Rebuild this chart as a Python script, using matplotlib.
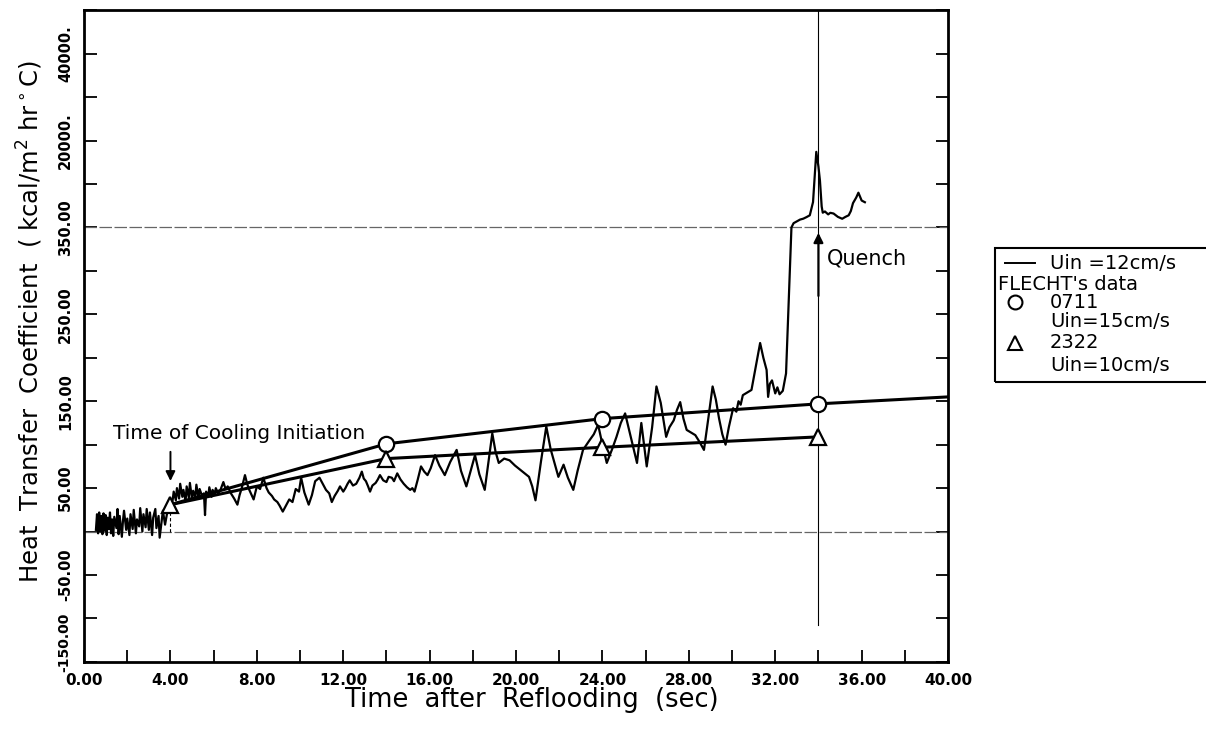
import numpy as np
import matplotlib
matplotlib.use("Agg")
import matplotlib.pyplot as plt
from matplotlib.patches import Rectangle
from matplotlib.lines import Line2D
from matplotlib.ticker import NullLocator

# measured heat transfer coefficient, Uin = 12 cm/s
# before cooling starts
t_pre = [0.55, 0.60, 0.65, 0.70, 0.75, 0.80, 0.85, 0.90, 0.95, 1.00,
         1.05, 1.10, 1.15, 1.20, 1.25, 1.30, 1.35, 1.40, 1.50, 1.55,
         1.60, 1.65, 1.75, 1.80, 1.85, 1.95, 2.00, 2.10, 2.15, 2.25,
         2.30, 2.40, 2.45, 2.55, 2.60, 2.70, 2.75, 2.85, 2.90, 3.00,
         3.05, 3.15, 3.20, 3.30, 3.35, 3.45, 3.50, 3.60, 3.65, 3.75]
h_pre = [2, 20, -2, 22, 0, 18, -3, 21, 1, 19,
         -4, 16, 3, 22, -2, 14, -5, 17, 4, 26,
         -3, 18, -6, 12, 24, 2, 15, -4, 20, 3,
         25, -2, 14, 6, 27, 0, 20, 5, 26, 2,
         22, -4, 16, 26, 4, 18, -7, 14, 24, 8]

# cooling period up to the quench front
t_cool = [3.85, 3.95, 4.05, 4.10, 4.15, 4.25, 4.30, 4.40, 4.45, 4.55,
          4.60, 4.70, 4.75, 4.85, 4.90, 5.00, 5.05, 5.15, 5.20, 5.30,
          5.35, 5.45, 5.55, 5.60, 5.65, 5.75, 5.80, 5.90, 5.95, 6.05,
          6.10, 6.20, 6.30, 6.45, 6.55, 6.65, 6.80, 6.95, 7.10, 7.20,
          7.30, 7.45, 7.55, 7.65, 7.85, 8.00, 8.15, 8.30, 8.45, 8.55,
          8.70, 8.80, 8.95, 9.05, 9.20, 9.35, 9.50, 9.65, 9.80, 9.95,
          10.05, 10.20, 10.40, 10.55, 10.70, 10.90, 11.05, 11.20, 11.35, 11.47,
          11.60, 11.75, 11.85, 12.00, 12.10, 12.20, 12.30, 12.45, 12.60, 12.75,
          12.86, 12.95, 13.05, 13.15, 13.24, 13.35, 13.50, 13.60, 13.70, 13.85,
          14.00, 14.10, 14.25, 14.35, 14.50, 14.65, 14.80, 14.95, 15.10, 15.20,
          15.30, 15.45, 15.60, 15.75, 15.90, 16.05, 16.25, 16.45, 16.70, 16.95,
          17.25, 17.45, 17.70, 17.90, 18.10, 18.30, 18.55, 18.75, 18.90, 19.05,
          19.20, 19.45, 19.70, 19.95, 20.20, 20.40, 20.60, 20.75, 20.90, 21.15,
          21.40, 21.60, 21.96, 22.20, 22.40, 22.65, 22.85, 23.10, 23.40, 23.60,
          23.80, 24.00, 24.20, 24.45, 24.65, 24.85, 25.05, 25.30, 25.60, 25.80,
          26.05, 26.30, 26.50, 26.70, 26.95, 27.10, 27.30, 27.45, 27.60, 27.75,
          27.90, 28.10, 28.30, 28.50, 28.70, 28.90, 29.10, 29.25, 29.40, 29.55,
          29.70, 29.85, 30.05, 30.20, 30.30, 30.40, 30.50, 30.70, 30.90, 31.10,
          31.30, 31.45, 31.60, 31.67, 31.75, 31.85, 32.00, 32.10, 32.20, 32.35,
          32.50]
h_cool = [22, 28, 31, 36, 46, 36, 50, 38, 55, 40,
          48, 35, 52, 39, 56, 37, 47, 40, 54, 38,
          49, 42, 44, 19, 46, 41, 51, 40, 48, 43,
          50, 44, 47, 57, 49, 52, 44, 38, 31, 42,
          50, 65, 55, 48, 37, 52, 49, 62, 50, 45,
          41, 37, 34, 30, 23, 30, 37, 34, 49, 46,
          62, 45, 31, 42, 58, 62, 55, 48, 44, 34,
          41, 47, 52, 46, 50, 55, 59, 53, 55, 62,
          69, 61, 58, 52, 46, 53, 56, 60, 65, 59,
          57, 63, 62, 58, 67, 60, 55, 51, 48, 50,
          46, 60, 75, 69, 65, 73, 88, 76, 65, 80,
          94, 70, 52, 70, 88, 66, 48, 85, 113, 92,
          79, 84, 82, 76, 71, 67, 63, 52, 36, 80,
          121, 95, 63, 77, 62, 48, 70, 94, 105, 112,
          123, 100, 79, 95, 109, 125, 136, 110, 79, 125,
          75, 120, 167, 148, 109, 120, 128, 140, 149, 130,
          117, 114, 111, 103, 94, 130, 167, 152, 130, 112,
          100, 120, 142, 138, 150, 146, 157, 160, 163, 190,
          217, 200, 186, 155, 170, 174, 159, 166, 158, 162,
          182]

# quench and after
t_quench = [32.75, 32.85, 33.00, 33.15, 33.30, 33.45, 33.60, 33.75, 33.90, 34.00,
            34.07, 34.15, 34.20, 34.30, 34.45, 34.55, 34.70, 34.90, 35.10, 35.25,
            35.40, 35.50, 35.60, 35.75, 35.85, 35.95, 36.00, 36.15]
h_quench = [350, 1300, 1700, 2100, 2300, 2650, 3050, 6000, 17400, 14000,
            10770, 5000, 3630, 3900, 3250, 3600, 3440, 2700, 2280, 2700,
            3050, 4000, 5750, 7000, 8070, 6900, 6330, 5950]

# FLECHT data
t_0711 = [4, 14, 24, 34, 40]
h_0711 = [31, 101, 130, 147, 155]
t_2322 = [4, 14, 24, 34]
h_2322 = [31, 84, 97, 109]

# broken vertical axis: linear up to 350, then 10000 per step
y_real = [-150, 350, 10000, 20000, 30000, 40000, 50000]
y_draw = [-150, 350, 400, 450, 500, 550, 600]

y_ticks = [-150, -100, -50, 0, 50, 100, 150, 200, 250, 300, 350,
           10000, 20000, 30000, 40000, 50000]
# the bottom label is placed separately so it clears the time axis labels
y_ticklabels = ["", "", "-50.00", "", "50.00", "", "150.00", "", "250.00", "",
                "350.00", "", "20000.", "", "40000.", ""]
x_ticks = [0, 4, 8, 12, 16, 20, 24, 28, 32, 36, 40]
x_ticklabels = ["0.00", "4.00", "8.00", "12.00", "16.00", "20.00",
                "24.00", "28.00", "32.00", "36.00", "40.00"]

t_meas = np.concatenate([t_pre, t_cool, t_quench])
h_meas = np.concatenate([h_pre, h_cool, h_quench])

fig = plt.figure(figsize=(12.06, 7.29), dpi=100)
ax = fig.add_axes([0.0697, 0.092, 0.7164, 0.894])
ax.set_yscale("function", functions=(lambda y: np.interp(y, y_real, y_draw),
                                     lambda y: np.interp(y, y_draw, y_real)))

# reference lines
ax.plot([0, 40], [0, 0], color="0.4", lw=0.9, ls=(0, (10, 2)))
ax.plot([0, 40], [350, 350], color="0.4", lw=0.9, ls=(0, (10, 2)))
ax.plot([34, 34], [-107, 50000], color="black", lw=0.8)
ax.plot([4, 4], [0, 31], color="black", lw=0.8, ls=(0, (3, 2)))

ax.plot(t_meas, h_meas, color="black", lw=1.6)

ax.plot(t_0711, h_0711, color="black", lw=2.2, marker="o", markevery=[1, 2, 3],
        ms=11, mfc="white", mec="black", mew=1.6, zorder=4)
ax.plot(t_2322, h_2322, color="black", lw=2.2, marker="^", ms=11,
        mfc="white", mec="black", mew=1.6, zorder=4)

ax.annotate("", xy=(4, 55), xytext=(4, 95),
            arrowprops=dict(arrowstyle="-|>", color="black", lw=1.4, mutation_scale=14))
ax.text(1.35, 113, "Time of Cooling Initiation", fontsize=14.5, va="center", ha="left")
ax.annotate("", xy=(34, 347), xytext=(34, 268),
            arrowprops=dict(arrowstyle="-|>", color="black", lw=1.6, mutation_scale=14))
ax.text(34.4, 314, "Quench", fontsize=15, va="center", ha="left")

ax.set_xlim(0, 40)
ax.set_ylim(-150, 50000)
ax.set_xticks(x_ticks)
ax.set_xticklabels(x_ticklabels, fontsize=11, fontweight="bold")
ax.set_xticks(np.arange(2, 40, 4), minor=True)
ax.set_yticks(y_ticks)
ax.set_yticklabels(y_ticklabels, fontsize=10.5, fontweight="bold", rotation=90, va="center")
ax.yaxis.set_minor_locator(NullLocator())
ax.tick_params(axis="both", which="both", direction="in", length=9, width=1.3)
ax.tick_params(axis="y", right=True, pad=8)
ax.tick_params(axis="x", pad=8)
for s in ax.spines.values():
    s.set_linewidth(2)

ax.annotate("-150.00", xy=(0, -150), xycoords=("axes fraction", "data"),
            xytext=(-14, 14), textcoords="offset points", rotation=90,
            fontsize=10, fontweight="bold", ha="center", va="center")

fig.text(0.441, 0.04, "Time  after  Reflooding  (sec)", fontsize=18.5, ha="center", va="center")
fig.text(0.025, 0.558, "Heat  Transfer  Coefficient  ( kcal/m$^2$ hr$^\\circ$C)",
         fontsize=17.5, rotation=90, ha="center", va="center")

# legend box
fig.add_artist(Rectangle((0.825, 0.476), 0.2, 0.184, fill=False, lw=1.5, ec="black"))
fig.add_artist(Line2D([0.8333, 0.8582], [0.6392, 0.6392], color="black", lw=1.4))
fig.text(0.8706, 0.6392, "Uin =12cm/s", fontsize=14, va="center")
fig.text(0.8275, 0.6104, "FLECHT's data", fontsize=14, va="center")
fig.add_artist(Line2D([0.8416], [0.5857], marker="o", ms=10, mfc="white", mec="black", mew=1.5))
fig.text(0.8706, 0.5857, "0711", fontsize=14, va="center")
fig.text(0.8706, 0.5583, "Uin=15cm/s", fontsize=14, va="center")
fig.add_artist(Line2D([0.8416], [0.5295], marker="^", ms=10, mfc="white", mec="black", mew=1.5))
fig.text(0.8706, 0.5295, "2322", fontsize=14, va="center")
fig.text(0.8706, 0.4993, "Uin=10cm/s", fontsize=14, va="center")

fig.savefig("out.png", dpi=100)
